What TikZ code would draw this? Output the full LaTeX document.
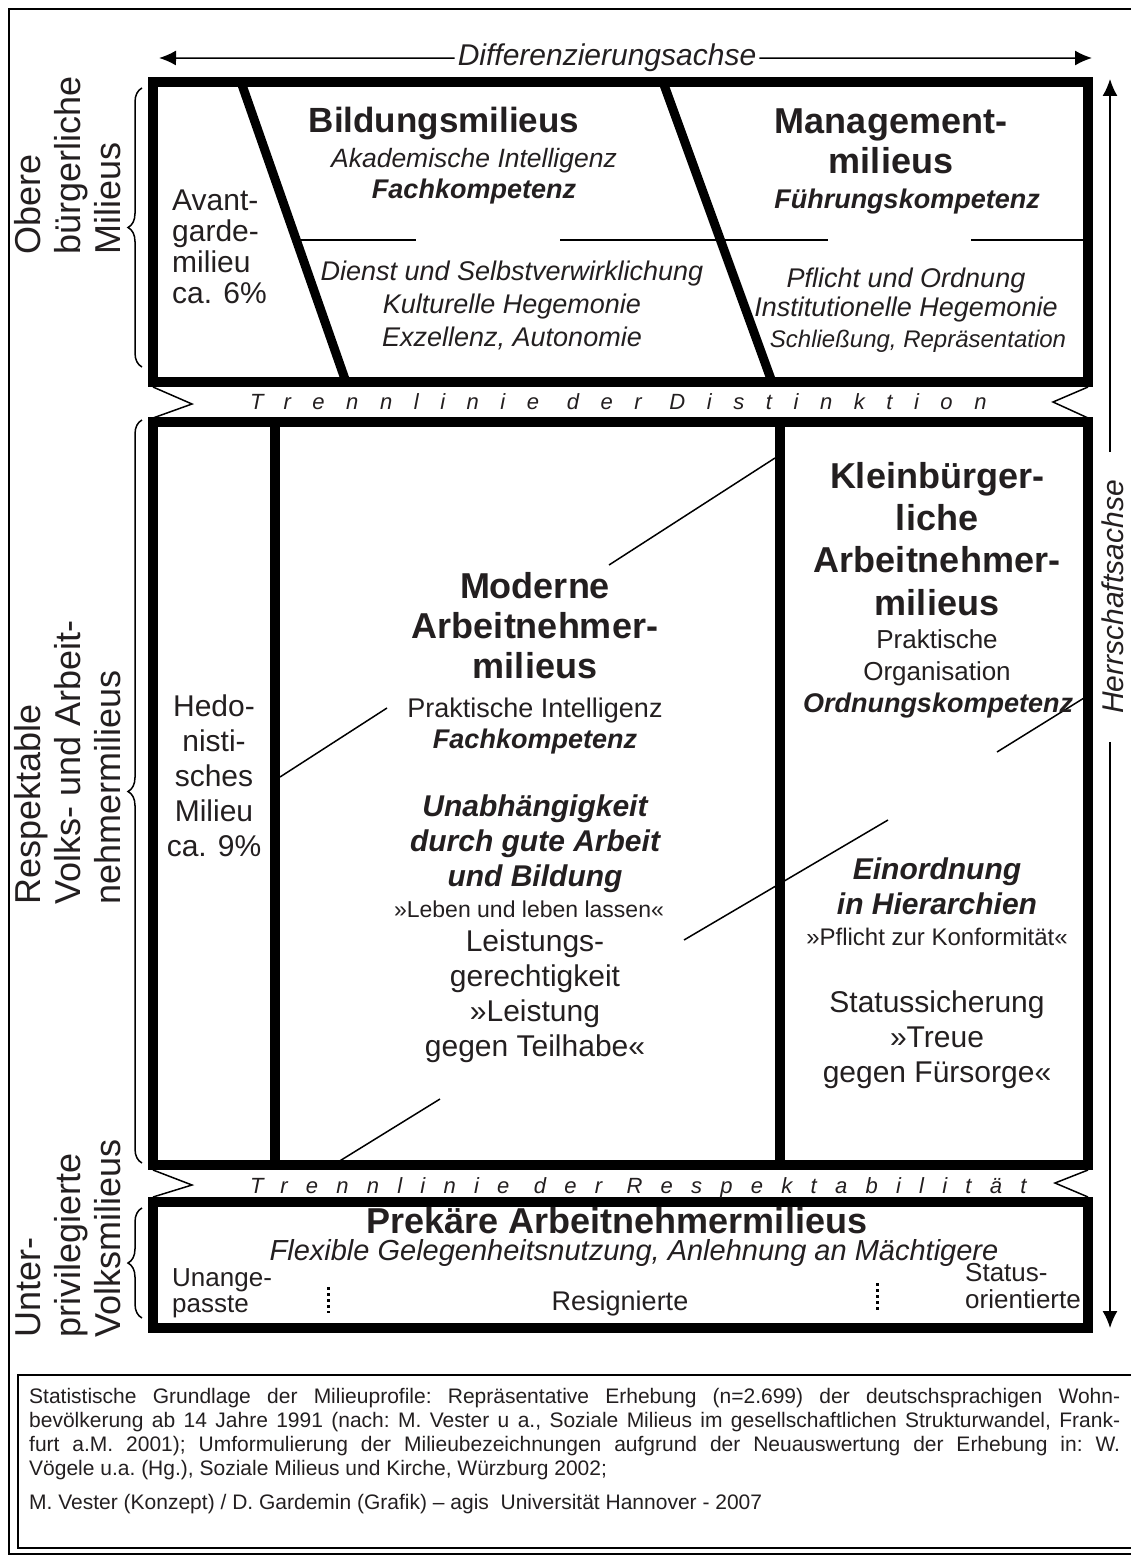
\documentclass[tikz,border=0pt]{standalone}
\usepackage{fontspec}
\setmainfont{Liberation Sans}
\newfontfamily\trennfont[LetterSpace=98]{Liberation Sans}
\newfontfamily\trennfontB[LetterSpace=83]{Liberation Sans}
\usetikzlibrary{arrows.meta,decorations.pathreplacing}
\definecolor{ink}{RGB}{35,31,32}
\newcommand{\fs}[2]{\fontsize{#1}{#2}\selectfont}

\begin{document}
\begin{tikzpicture}[x=1pt, y=-1pt,
    box/.style={line width=10pt},
    slant/.style={line width=9pt},
    hairline/.style={line width=1.5pt},
    axis/.style={-{Latex[length=17pt,width=15pt]}, line width=1.5pt},
    milbrace/.style={decorate, decoration={brace, amplitude=14pt}, line width=1.5pt},
    lbl/.style={inner sep=0pt, text=ink, align=center},
    side/.style={lbl, rotate=90, anchor=west, align=left, font=\fs{36}{40}},
    heading/.style={lbl, anchor=north, font=\fs{36}{40}\bfseries},
    kompetenz/.style={lbl, anchor=base, font=\fs{27}{30}\bfseries\itshape},
    plain/.style={lbl, anchor=north, font=\fs{30}{35}},
    maxim/.style={lbl, anchor=north, font=\fs{30}{35}\bfseries\itshape},
    trenn/.style={inner sep=0pt, text=ink, anchor=base west}
]
    \clip (0,0) rectangle (1131,1557);
    \fill[white] (0,0) rectangle (1131,1557);
    \draw[hairline] (9,9) rectangle (1145,1554);

    % Axes
    \node[lbl, anchor=base, inner xsep=3pt, font=\fs{30}{35}\itshape] (diff) at (607,66) {Differenzierungsachse};
    \coordinate (diffL) at (159,58);
    \coordinate (diffR) at (1092,58);
    \draw[axis] (diff.west) -- (diffL);
    \draw[axis] (diff.east) -- (diffR);

    \node[lbl, rotate=90, inner xsep=28pt, font=\fs{30}{35}\itshape] (herr) at (1113,597) {Herrschaftsachse};
    \coordinate (herrT) at (1110,79);
    \coordinate (herrB) at (1110,1328);
    \draw[axis] (herrT |- herr.east) -- (herrT);
    \draw[axis] (herrB |- herr.west) -- (herrB);

    % Milieu boxes
    \draw[box] (153,82) rectangle (1088,382);
    \draw[box] (153,422) rectangle (1088,1165);
    \draw[box] (153,1202) rectangle (1088,1328);
    \draw[slant] (241,82) -- (346,382);
    \draw[slant] (663,82) -- (772,382);
    \draw[box] (275,422) -- (275,1165);
    \draw[box] (780,422) -- (780,1165);

    % Thin rules and diagonals
    \draw[hairline] (296,240) -- (416,240);
    \draw[hairline] (560,240) -- (828,240);
    \draw[hairline] (971,240) -- (1084,240);
    \draw[hairline] (775,458) -- (609,565);
    \draw[hairline] (387,708) -- (280,777);
    \draw[hairline] (1084,698) -- (997,752);
    \draw[hairline] (888,820) -- (684,940);
    \draw[hairline] (440,1099) -- (338,1162);

    % Separation lines
    \draw[hairline] (153,387) -- (192,404) -- (153,418);
    \draw[hairline] (1088,387) -- (1053,402) -- (1088,418);
    \draw[hairline] (153,1170) -- (192,1185) -- (153,1197);
    \draw[hairline] (1088,1170) -- (1055,1183) -- (1088,1197);
    \node[trenn, font=\fs{22}{26}\trennfont\itshape] (distinktion) at (250,409) {Trennlinie der Distinktion};
    \node[trenn, font=\fs{22}{26}\trennfontB\itshape] (respekt) at (250,1193) {Trennlinie der Respektabilität};

    % Side labels
    \node[side] (obere) at (68,255) {Obere\\bürgerliche\\Milieus};
    \node[side] (respektabel) at (68,905) {Respektable\\Volks- und Arbeit-\\nehmermilieus};
    \node[side] (unter) at (68,1338) {Unter-\\privilegierte\\Volksmilieus};
    \draw[milbrace] (142,367) -- (142,88);
    \draw[milbrace] (142,1163) -- (142,420);
    \draw[milbrace] (142,1318) -- (142,1208);

    % Obere buergerliche Milieus
    \node[plain, anchor=north west, align=left, font=\fs{30}{31}] (avant) at (172,190) {Avant-\\garde-\\milieu\\ca. 6\%};
    \node[lbl, anchor=base, font=\fs{35}{40}\bfseries] (bildung) at (444,133) {Bildungsmilieus};
    \node[lbl, anchor=base, font=\fs{26.5}{30}\itshape] (akad) at (474,168) {Akademische Intelligenz};
    \node[kompetenz] (fachA) at (474,198) {Fachkompetenz};
    \node[lbl, anchor=north, font=\fs{27}{33}\itshape] (dienst) at (512,261) {Dienst und Selbstverwirklichung\\Kulturelle Hegemonie\\Exzellenz, Autonomie};
    \node[heading] (mgmt) at (891,109) {Management-\\milieus};
    \node[kompetenz] (fuehrung) at (907,208) {Führungskompetenz};
    \node[lbl, anchor=north, font=\fs{27}{29}\itshape] (pflicht) at (906,268) {Pflicht und Ordnung\\Institutionelle Hegemonie};
    \node[lbl, anchor=base, font=\fs{24}{29}\itshape] (schliess) at (918,347) {Schließung, Repräsentation};

    % Respektable Milieus
    \node[plain] (hedo) at (214,695) {Hedo-\\nisti-\\sches\\Milieu\\ca. 9\%};
    \node[heading] (moderne) at (535,572) {Moderne\\Arbeitnehmer-\\milieus};
    \node[lbl, anchor=base, font=\fs{27}{30}] (praktI) at (535,717) {Praktische Intelligenz};
    \node[kompetenz] (fachB) at (535,748) {Fachkompetenz};
    \node[maxim] (unabh) at (535,795) {Unabhängigkeit\\durch gute Arbeit\\und Bildung};
    \node[lbl, anchor=base, font=\fs{23}{28}] (leben) at (529,917) {»Leben und leben lassen«};
    \node[plain] (leistung) at (535,930) {Leistungs-\\gerechtigkeit\\»Leistung\\gegen Teilhabe«};
    \node[heading, font=\fs{36}{42.3}\bfseries] (klein) at (937,462) {Kleinbürger-\\liche\\Arbeitnehmer-\\milieus};
    \node[lbl, anchor=north, font=\fs{26}{32}] (praktO) at (937,629) {Praktische\\Organisation};
    \node[kompetenz] (ordnung) at (938,712) {Ordnungskompetenz};
    \node[maxim] (einord) at (937,858) {Einordnung\\in Hierarchien};
    \node[lbl, anchor=base, font=\fs{24}{28}] (konform) at (937,945) {»Pflicht zur Konformität«};
    \node[plain] (status) at (937,991) {Statussicherung\\»Treue\\gegen Fürsorge«};

    % Prekaere Milieus
    \node[lbl, anchor=base, font=\fs{36}{40}\bfseries] (prek) at (617,1233) {Prekäre Arbeitnehmermilieus};
    \node[lbl, anchor=base, font=\fs{29}{34}\itshape] (flex) at (634,1260) {Flexible Gelegenheitsnutzung, Anlehnung an Mächtigere};
    \node[lbl, anchor=north west, align=left, font=\fs{26}{26}] (unang) at (172,1268) {Unange-\\passte};
    \node[lbl, anchor=base, font=\fs{27}{30}] (resig) at (620,1310) {Resignierte};
    \node[lbl, anchor=north west, align=left, font=\fs{26}{27}] (statusor) at (965,1263) {Status-\\orientierte};
    \draw[line width=3pt, dash pattern=on 2.5pt off 3.5pt] (328,1287) -- (328,1313);
    \draw[line width=3pt, dash pattern=on 2.5pt off 3.5pt] (877,1283) -- (877,1310);

    % Footnote
    \draw[hairline] (18,1375) rectangle (1145,1548);
    \node[lbl, anchor=north west, text width=1091pt, align=justify, font=\fs{21}{24}] (note) at (29,1388) {\noindent\frenchspacing\hyphenpenalty=10000
        Statistische Grundlage der Milieuprofile: Repräsentative Erhebung (n=2.699) der deutschsprachigen Wohn-\linebreak
        bevölkerung ab 14 Jahre 1991 (nach: M. Vester u a., Soziale Milieus im gesellschaftlichen Strukturwandel, Frank-\linebreak
        furt a.M. 2001); Umformulierung der Milieubezeichnungen aufgrund der Neuauswertung der Erhebung in: W.\linebreak
        Vögele u.a. (Hg.), Soziale Milieus und Kirche, Würzburg 2002;\par\vspace{10pt}\noindent
        M. Vester (Konzept) / D. Gardemin (Grafik) – agis\ \ Universität Hannover - 2007};
\end{tikzpicture}
\end{document}
